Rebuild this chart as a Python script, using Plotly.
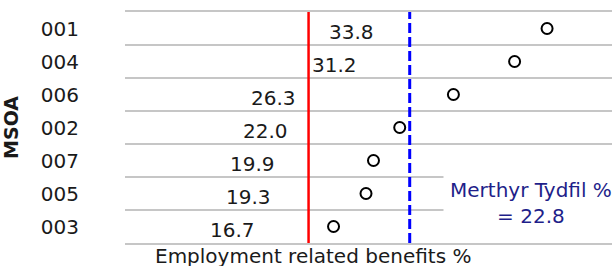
import plotly.graph_objects as go

# ---- data ----
msoa = ["001", "004", "006", "002", "007", "005", "003"]
values = [33.8, 31.2, 26.3, 22.0, 19.9, 19.3, 16.7]
area_name = "Merthyr Tydfil"
area_value = 22.8
red_ref_value = 14.7
x_title = "Employment related benefits %"
y_title = "MSOA"

FONT = "DejaVu Sans"
FS = 20
TXT = "#1a1a1a"
GRID = "#c6c6c6"

# label positions: half the value, nudged away from the red reference line
half_w = 1.76   # approx half label width in axis units
gap = 0.5
base_off = 0.24
label_x = []
for v in values:
    c = v / 2
    if abs(c - red_ref_value) < half_w + gap:
        c = c - 1.27 if c < red_ref_value else c + 1.2
    else:
        c = c + base_off
    label_x.append(c)

fig = go.Figure()

fig.add_trace(go.Scatter(
    x=values, y=msoa, mode="markers",
    marker=dict(symbol="circle-open", size=11, color="black",
                line=dict(width=2, color="black")),
    showlegend=False,
))

for i, (lx, v) in enumerate(zip(label_x, values)):
    fig.add_annotation(
        x=lx, y=i, xref="x", yref="y", text=f"{v:.1f}",
        showarrow=False, xanchor="center", yanchor="middle", yshift=-3,
        font=dict(family=FONT, size=FS, color=TXT),
    )

fig.add_shape(type="line", xref="x", yref="paper",
              x0=red_ref_value, x1=red_ref_value, y0=0, y1=1,
              line=dict(color="#ff0000", width=2.5))
fig.add_shape(type="line", xref="x", yref="paper",
              x0=area_value, x1=area_value, y0=0, y1=1,
              line=dict(color="#0000ff", width=3, dash="10px,4px"))

fig.add_annotation(
    text=f"{area_name} %<br>= {area_value}",
    xref="paper", yref="paper", x=0.834, y=0.172,
    xanchor="center", yanchor="middle", showarrow=False,
    font=dict(family=FONT, size=FS, color="#1f1f8a"),
    bgcolor="white", borderpad=6, align="center",
)

fig.add_annotation(
    text=x_title, xref="paper", yref="paper", x=0.386, y=0,
    xanchor="center", yanchor="top", showarrow=False, yshift=1,
    font=dict(family=FONT, size=FS, color=TXT),
)

fig.update_layout(
    width=612, height=266,
    margin=dict(l=125, r=0, t=12, b=23, autoexpand=False),
    paper_bgcolor="white", plot_bgcolor="white",
    font=dict(family=FONT, size=FS, color=TXT),
    xaxis=dict(range=[0, 39], showticklabels=False, showgrid=False,
               zeroline=False, showline=True, mirror=True,
               linecolor=GRID, linewidth=1.5,
               ticks="", automargin=False),
    yaxis=dict(type="category", categoryorder="array", categoryarray=msoa,
               range=[len(msoa) - 0.5, -0.5], tickson="boundaries", ticks="",
               showgrid=True, gridcolor=GRID, gridwidth=1.5,
               zeroline=False, showline=False, automargin=False,
               ticklabelstandoff=45,
               tickfont=dict(family=FONT, size=FS, color=TXT),
               title=dict(text=f"<b>{y_title}</b>", standoff=18,
                          font=dict(family=FONT, size=19, color=TXT))),
)

fig.write_html("out.html", config={"displayModeBar": False},
               post_script="document.body.style.margin='0';document.body.style.overflow='hidden';")
